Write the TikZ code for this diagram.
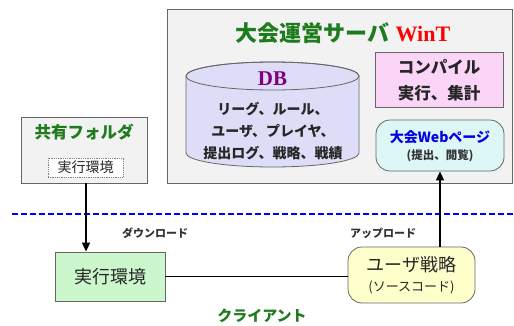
\documentclass[tikz,border=0pt]{standalone}
\usepackage{fontspec}
\setmainfont{Noto Sans CJK JP}
\newfontfamily\serifb{Liberation Serif}
\usetikzlibrary{arrows.meta}
\definecolor{ttlgreen}{HTML}{1E7B1E}
\definecolor{srvfill}{HTML}{F2F2F2}
\definecolor{dbfill}{HTML}{DDDDF7}
\definecolor{dbtext}{HTML}{800080}
\definecolor{cmpfill}{HTML}{FBD5F7}
\definecolor{webfill}{HTML}{DDF7F7}
\definecolor{exfill}{HTML}{CCF7CC}
\definecolor{usfill}{HTML}{FFFFCC}
\definecolor{lblgray}{HTML}{333333}
\begin{document}
\begin{tikzpicture}[x=1pt,y=-1pt,
  box/.style={draw=gray!80!black, line width=0.8pt, inner sep=0pt},
  rbox/.style={box, rounded corners=14pt},
  conn/.style={line width=1.6pt, black},
  arr/.style={conn, -{Triangle[length=9pt,width=8pt]}},
  lbl/.style={font=\fontsize{11}{13}\selectfont\bfseries, text=lblgray}]
\useasboundingbox (0,0) rectangle (514,325);
% server
\node[box, fill=srvfill, minimum width=345pt, minimum height=174pt] (srv) at (339.5,96) {};
\node[font=\fontsize{22}{24}\selectfont\bfseries, text=ttlgreen, inner sep=0pt] (ttl) at (343,33)
  {大会運営サーバ\hspace{6pt}{\serifb\bfseries\color{red}WinT}};
% DB cylinder
\path[box, fill=dbfill] (186,76) -- (186,153) arc[start angle=180, end angle=0, x radius=86.5, y radius=14]
  -- (359,76) arc[start angle=0, end angle=-180, x radius=86.5, y radius=14] -- cycle;
\draw[box] (272.5,76) ellipse[x radius=86.5, y radius=14];
\node[font=\fontsize{21}{23}\selectfont\serifb\bfseries, text=dbtext] (dbt) at (272.5,79) {DB};
\node[align=center, font=\fontsize{14}{22}\selectfont\bfseries, text=black!85] (db) at (273,131)
  {リーグ、ルール、\\ユーザ、プレイヤ、\\提出ログ、戦略、戦績};
% compile
\node[box, fill=cmpfill, minimum width=128pt, minimum height=55pt, align=center,
  font=\fontsize{16.5}{26}\selectfont\bfseries, text=black!85] (cmp) at (439,80) {コンパイル\\実行、集計};
% web
\node[rbox, fill=webfill, minimum width=128pt, minimum height=51pt] (web) at (440,145.5) {};
\node[font=\fontsize{14}{16}\selectfont\bfseries, text=blue!90!black] (webt) at (440,137) {大会Webページ};
\node[font=\fontsize{11.5}{13}\selectfont\bfseries, text=lblgray] (webs) at (440,156) {(提出、閲覧)};
% shared folder
\node[box, fill=srvfill, minimum width=126pt, minimum height=66pt] (sf) at (84,150) {};
\node[font=\fontsize{16.5}{18}\selectfont\bfseries, text=ttlgreen] (sft) at (84,132) {共有フォルダ};
\node[draw=gray, densely dotted, line width=0.8pt, fill=white, minimum width=75pt, minimum height=19pt,
  inner sep=0pt, font=\fontsize{14}{15}\selectfont, text=black!85] (sfe) at (85.5,167.5) {実行環境};
% dashed separator
\coordinate (dl) at (12,214);
\coordinate (dr) at (514,214);
\draw[blue, line width=1.3pt, dash pattern=on 6pt off 3pt] (dl) -- (dr);
% client side
\node[box, fill=exfill, minimum width=110pt, minimum height=49pt,
  font=\fontsize{18}{20}\selectfont, text=black!85] (ex) at (110,276.5) {実行環境};
\node[rbox, fill=usfill, minimum width=127pt, minimum height=56pt, align=center,
  font=\fontsize{18}{21}\selectfont, text=black!85] (us) at (411.5,275)
  {ユーザ戦略\\[-1pt]{\fontsize{13}{15}\selectfont(ソースコード)}};
\node[lbl] (dn) at (155,233) {ダウンロード};
\node[lbl] (up) at (383,233) {アップロード};
\node[font=\fontsize{15}{17}\selectfont\bfseries, text=ttlgreen] (cl) at (262,316) {クライアント};
% connectors
\coordinate (ax) at (86,0);
\draw[arr] (sf.south -| ax) -- (ex.north -| ax);
\draw[conn] (ex.east) -- (ex.east -| us.west);
\draw[arr] (us.north -| web.south) -- (web.south);
\end{tikzpicture}
\end{document}
